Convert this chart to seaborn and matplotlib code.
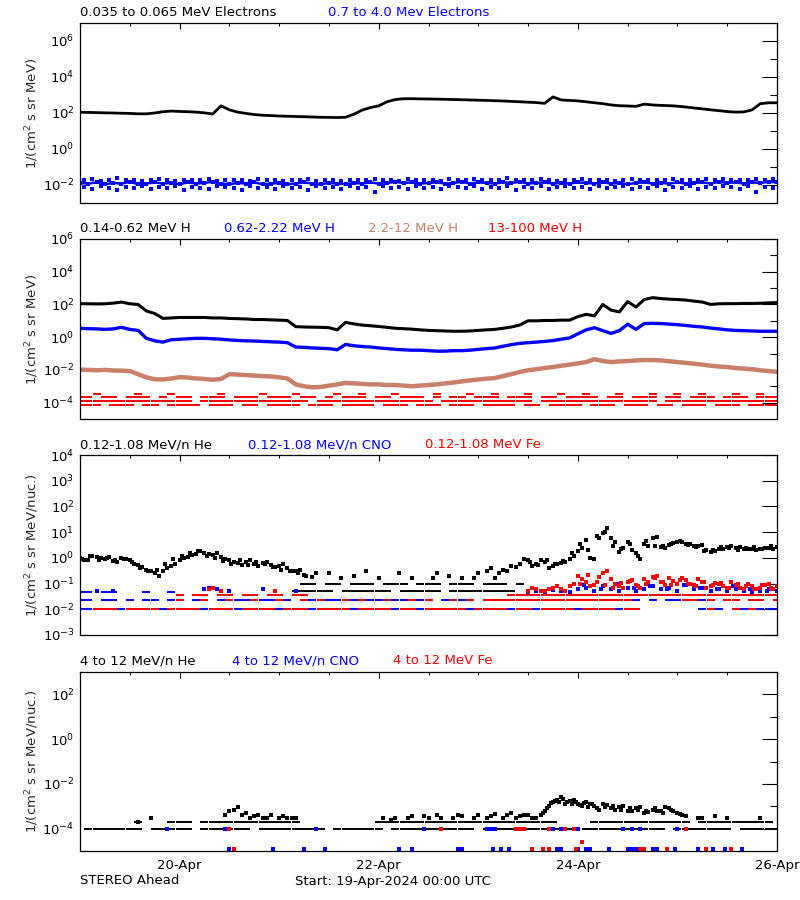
import numpy as np
import seaborn as sns
import matplotlib.pyplot as plt
from matplotlib.ticker import NullFormatter

# STEREO Ahead particle fluxes, 19-Apr-2024 00:00 UTC to 26-Apr-2024 00:00 UTC
# x = hours since start

hours2 = np.arange(0, 169, 2)   # 2-hourly samples
hours1 = np.arange(1, 168, 2)   # the samples in between

day_ticks = [24, 72, 120, 168]
day_labels = ['20-Apr', '22-Apr', '24-Apr', '26-Apr']

# ---- panel 1: electrons
e_low = [110, 108, 105, 102, 100, 97, 95, 90, 90, 100,
         118, 128, 122, 118, 112, 102, 88, 250, 150, 112,
         95, 82, 75, 72, 68, 66, 64, 62, 60, 58,
         57, 56, 58, 85, 145, 200, 250, 420, 560, 620,
         620, 610, 600, 590, 575, 560, 545, 530, 515, 500,
         480, 465, 440, 420, 400, 380, 345, 780, 530, 500,
         470, 420, 370, 330, 280, 255, 245, 235, 310, 280,
         265, 255, 240, 215, 190, 170, 150, 135, 120, 112,
         115, 150, 330, 370, 370]
e_high = [0.013, 0.012, 0.014, 0.011, 0.013, 0.012, 0.015, 0.011, 0.012, 0.014,
          0.012, 0.013, 0.011, 0.014, 0.012, 0.013, 0.015, 0.012, 0.011, 0.013,
          0.012, 0.014, 0.011, 0.012, 0.013, 0.011, 0.012, 0.014, 0.012, 0.011,
          0.013, 0.012, 0.011, 0.013, 0.012, 0.014, 0.012, 0.013, 0.015, 0.013,
          0.014, 0.012, 0.013, 0.014, 0.012, 0.013, 0.015, 0.012, 0.014, 0.013,
          0.012, 0.014, 0.013, 0.015, 0.012, 0.013, 0.014, 0.012, 0.013, 0.012,
          0.014, 0.013, 0.012, 0.014, 0.012, 0.013, 0.011, 0.013, 0.014, 0.012,
          0.013, 0.012, 0.014, 0.012, 0.013, 0.014, 0.012, 0.015, 0.013, 0.014,
          0.012, 0.014, 0.013, 0.015, 0.014]
e_high_up = [0.018, 0.021, 0.017, 0.019, 0.023, 0.018, 0.020, 0.017, 0.019, 0.022,
             0.018, 0.017, 0.020, 0.019, 0.018, 0.021, 0.017, 0.019, 0.018, 0.020,
             0.017, 0.022, 0.018, 0.019, 0.017, 0.020, 0.018, 0.021, 0.017, 0.019,
             0.018, 0.017, 0.020, 0.018, 0.019, 0.022, 0.018, 0.020, 0.017, 0.021,
             0.019, 0.018, 0.020, 0.017, 0.022, 0.019, 0.018, 0.021, 0.019, 0.020,
             0.018, 0.023, 0.019, 0.020, 0.018, 0.021, 0.019, 0.017, 0.020, 0.018,
             0.022, 0.019, 0.018, 0.020, 0.017, 0.019, 0.021, 0.018, 0.020, 0.019,
             0.018, 0.021, 0.019, 0.020, 0.018, 0.022, 0.019, 0.021, 0.018, 0.020,
             0.019, 0.022, 0.020, 0.021]
e_high_lo = [0.008, 0.006, 0.009, 0.007, 0.005, 0.008, 0.007, 0.009, 0.006, 0.008,
             0.007, 0.009, 0.005, 0.008, 0.007, 0.006, 0.009, 0.008, 0.007, 0.005,
             0.009, 0.007, 0.008, 0.006, 0.009, 0.007, 0.008, 0.005, 0.009, 0.007,
             0.008, 0.006, 0.009, 0.007, 0.008, 0.004, 0.009, 0.007, 0.008, 0.006,
             0.009, 0.007, 0.008, 0.006, 0.009, 0.008, 0.007, 0.009, 0.006, 0.008,
             0.007, 0.009, 0.005, 0.008, 0.007, 0.009, 0.006, 0.008, 0.009, 0.007,
             0.008, 0.006, 0.009, 0.007, 0.008, 0.009, 0.006, 0.008, 0.007, 0.009,
             0.005, 0.008, 0.007, 0.009, 0.006, 0.008, 0.007, 0.009, 0.008, 0.006,
             0.009, 0.004, 0.008, 0.007]

# ---- panel 2: protons
h_low = [112, 110, 108, 110, 120, 140, 110, 100, 40, 28,
         14, 15, 16, 16, 16, 16, 15, 15, 14, 13.5,
         13, 12, 12, 11.5, 11, 10.5, 4.4, 4.2, 4.1, 4.0,
         3.8, 2.8, 8, 6.5, 5.5, 5, 4.5, 4, 3.5, 3.3,
         3.1, 2.8, 2.6, 2.5, 2.4, 2.3, 2.3, 2.4, 2.6, 2.8,
         3, 3.5, 4.2, 5.5, 10, 10, 10.5, 10.5, 11, 11,
         18, 25, 20, 100, 45, 35, 150, 70, 200, 260,
         230, 210, 200, 186, 160, 140, 100, 110, 112, 112,
         115, 115, 118, 125, 130]
h_mid = [3.5, 3.3, 3.2, 3.0, 3.2, 4.0, 3.0, 2.6, 0.85, 0.6,
         0.5, 0.7, 0.74, 0.8, 0.85, 0.85, 0.8, 0.75, 0.68, 0.63,
         0.6, 0.58, 0.55, 0.52, 0.5, 0.46, 0.25, 0.24, 0.22, 0.21,
         0.2, 0.17, 0.36, 0.3, 0.27, 0.25, 0.22, 0.2, 0.18, 0.17,
         0.16, 0.16, 0.15, 0.14, 0.14, 0.15, 0.15, 0.16, 0.18, 0.2,
         0.22, 0.28, 0.35, 0.42, 0.46, 0.5, 0.55, 0.62, 0.75, 0.9,
         1.6, 2.8, 3.8, 2.5, 1.7, 2.5, 6.2, 3, 6.8, 7,
         6.8, 6.3, 5.8, 5.2, 4.6, 4.2, 3.6, 3.2, 2.8, 2.6,
         2.5, 2.4, 2.3, 2.3, 2.3]
h_high = [0.0105, 0.010, 0.0095, 0.010, 0.0092, 0.009, 0.0085, 0.0055, 0.0035, 0.0027,
          0.0026, 0.003, 0.0036, 0.0034, 0.003, 0.0028, 0.0025, 0.0028, 0.0055, 0.0052,
          0.0048, 0.0045, 0.0042, 0.004, 0.0035, 0.003, 0.0013, 0.001, 0.00087, 0.0009,
          0.0011, 0.0013, 0.0016, 0.0015, 0.0014, 0.0013, 0.0013, 0.0012, 0.0012, 0.0011,
          0.001, 0.0011, 0.0012, 0.0013, 0.0015, 0.0017, 0.002, 0.0023, 0.0026, 0.0029,
          0.0032, 0.0042, 0.0055, 0.0075, 0.0095, 0.011, 0.013, 0.015, 0.018, 0.021,
          0.025, 0.03, 0.045, 0.035, 0.03, 0.033, 0.035, 0.038, 0.04, 0.04,
          0.038, 0.034, 0.03, 0.027, 0.024, 0.021, 0.018, 0.016, 0.015, 0.013,
          0.012, 0.011, 0.0095, 0.0085, 0.0076]
# 13-100 MeV H sits on a few count levels; '1' = sample present on that level
h_top_levels = [3.5e-4, 2.1e-4, 1.3e-4, 6.8e-5]
h_top_masks = [
    "0010000100" "0100000100" "0010001000" "0100100010" "0001000100" "1000100010" "0100010001" "0010010001" "00100",
    "1101101110" "1011011101" "1101110110" "1011101101" "1101011011" "1011101101" "1110110111" "0110111011" "10111",
    "1111111111" "1111011111" "1111111101" "1111111111" "1110111111" "1111101111" "1111111111" "0111111111" "11111",
    "1110111011" "0111101110" "1101111011" "1011110111" "0111011101" "1110110111" "1011101110" "1101110111" "01111",
]

# ---- panel 3: 0.12-1.08 MeV/n ions
he_a = [1.0, 0.85, 1.1, 0.9, 0.75, 1.0, 0.8, 0.55, 0.35, 0.25,
        0.3, 0.5, 0.8, 1.1, 1.4, 1.6, 1.3, 1.1, 0.8, 0.65,
        0.7, 0.6, 0.65, 0.55, 0.5, 0.4, 0.3, 0.22, 0.18, np.nan,
        0.25, np.nan, np.nan, 0.2, np.nan, np.nan, 0.17, np.nan, np.nan, np.nan,
        0.17, np.nan, np.nan, 0.25, np.nan, np.nan, 0.17, np.nan, 0.25, 0.3,
        0.17, 0.35, 0.5, 0.6, 0.8, 0.6, 0.7, 0.5, 0.65, 0.9,
        1.9, 4.8, 0.9, 9, 6, 1.7, 4, 1.5, 3.5, 6,
        2.6, 3.2, 4, 3.5, 3, 3.2, 1.7, 2.2, 2.6, 2.4,
        2.3, 2.3, 2.2, 2.5, 2.6]
he_b = [0.8, 1.2, 0.95, 1.1, 0.7, 0.9, 0.6, 0.45, 0.3, 0.2,
        0.4, 0.6, 1.0, 1.3, 1.9, 1.4, 1.5, 0.9, 0.7, 0.55,
        0.8, 0.5, 0.7, 0.45, 0.6, 0.3, 0.35, np.nan, 0.25, np.nan,
        np.nan, 0.17, np.nan, np.nan, 0.3, np.nan, np.nan, np.nan, 0.25, np.nan,
        np.nan, np.nan, 0.17, np.nan, 0.2, np.nan, np.nan, 0.17, np.nan, 0.4,
        0.25, 0.3, 0.45, 0.9, 0.5, 0.8, 0.4, 0.6, 0.7, 1.2,
        2.5, 1.0, 6, 14, 4, 2.5, 2, 0.9, 2.8, 6.5,
        2.4, 3.8, 4.2, 3.6, 2.8, 2, 1.8, 2.3, 2.8, 2.6,
        2.2, 2.0, 2.4, 2.3]
he_c_h = np.arange(0.5, 56, 2)
he_c = [0.9, 1.2, 0.8, 1.0, 0.85, 0.9, 0.7, 0.4, 0.3, 0.35,
        0.6, 0.9, 1.2, 1.5, 1.8, 1.2, 1.0, 0.75, 0.6, 0.8,
        0.55, 0.7, 0.6, 0.45, 0.35, 0.3, 0.25, 0.2]
he_d_h = np.arange(108.5, 168, 2)
he_d = [0.7, 0.55, 0.8, 0.6, 0.75, 1.5, 3.5, 2.0, 7, 10,
        3, 2.2, 3.5, 1.2, 4.5, 3, 2.8, 3.6, 4.5, 3.2,
        2.6, 1.9, 2.0, 2.7, 2.5, 2.1, 2.4, 2.6, 2.2, 2.8]
he_levels = [0.1, 0.05]
he_masks = [
    "0000000000" "0000000000" "0000000110" "1101110111" "0111011101" "1101000000" "0000000000" "0000000000" "00000",
    "0000000000" "0000000000" "0000001111" "1011111101" "1111011111" "1110000000" "0000000000" "0000000000" "00000",
]
cno_levels = [0.01, 0.022, 0.045]
cno_masks = [
    "1111111111" "1111111111" "1111111111" "1111111111" "1111111111" "1111111111" "11111111" "00000001110110111",
    "1101101011" "0110110101" "1011010110" "1101011011" "0110101101" "1011011010" "1101101101" "0110011011" "01101",
    "1101100010" "0100000000" "0000000000" "0000000000" "0000000000" "0000000000" "0000000000" "0000000000" "00000",
]
fe_levels = [0.01, 0.022, 0.036]
fe_masks = [
    "0011101111" "0111101110" "1111011101" "1110111101" "1011111011" "1101101111" "01111011" "00000000100101000",
    "0000000000" "0010010010" "0100100101" "0010100100" "1010010101" "1111111111" "1111111000" "0001101011" "01101",
    "0000000000" "0010110110" "1101101100" "0000000000" "0000000000" "0011111111" "1111111111" "1111111111" "11111",
]
burst_hours2 = np.arange(108, 169, 2)
burst_hours1 = np.arange(109, 168, 2)
burst_hours3 = np.arange(120.5, 167, 2)
burst_hours4 = np.arange(121.5, 166, 4)
fe_burst_a = [0.05, 0.06, 0.05, 0.07, 0.06, 0.08, 0.2, 0.12, 0.09, 0.25,
              0.15, 0.08, 0.12, 0.09, 0.15, 0.18, 0.12, 0.16, 0.1, 0.14,
              0.09, 0.12, 0.08, 0.1, 0.07, 0.09, 0.06, 0.08, 0.07, 0.1, 0.08]
fe_burst_b = [0.07, 0.05, 0.06, 0.08, 0.05, 0.1, 0.15, 0.08, 0.18, 0.3,
              0.1, 0.07, 0.14, 0.07, 0.12, 0.2, 0.09, 0.13, 0.17, 0.1,
              0.15, 0.07, 0.11, 0.08, 0.12, 0.07, 0.1, 0.06, 0.09, 0.06]
fe_burst_c = [0.1, 0.22, 0.12, 0.09, 0.07, 0.11, 0.13, 0.08, 0.1, 0.16,
              0.12, 0.09, 0.14, 0.1, 0.08, 0.12, 0.09, 0.11, 0.07, 0.1,
              0.08, 0.06, 0.09, 0.07]
cno_burst_a = [0.045, 0.05, 0.045, 0.055, 0.05, 0.045, 0.06, 0.07, 0.05, 0.08,
               0.06, 0.05, 0.07, 0.05, 0.06, 0.08, 0.06, 0.07, 0.05, 0.09,
               0.06, 0.07, 0.05, 0.06, 0.05, 0.06, 0.05, 0.045, 0.05, 0.06, 0.05]
cno_burst_b = [0.09, 0.06, 0.1, 0.07, 0.08, 0.06, 0.09, 0.07, 0.06, 0.08, 0.06, 0.05]
cno_extra_h = [4, 8, 30, 31, 33, 36, 44, 52]
cno_extra = [0.05, 0.05, 0.06, 0.07, 0.06, 0.05, 0.06, 0.05]
fe_extra_h = [31, 32, 34, 47]
fe_extra = [0.06, 0.065, 0.05, 0.05]

# ---- panel 4: 4-12 MeV/n ions
he4_levels = [1e-4, 1.9e-4]
he4_masks = [
    "0111111101" "1111011111" "1011111111" "0111111011" "1111111101" "1111111111" "0111111111" "1011111110" "11111",
    "0000000100" "0111011111" "1111111000" "0000001111" "1111111111" "1111111100" "0011111111" "1111011111" "11110",
]
he4_h = [14, 17, 35, 36, 37, 38, 39, 40, 41, 42,
         43, 44, 45, 46, 48, 49, 50, 51, 52, 73,
         75, 76, 79, 80, 83, 84, 86, 87, 90, 91,
         92, 95, 96, 98, 99, 100, 102, 103, 104, 105,
         106, 107, 108, 109, 110, 111, 112, 113, 114, 115,
         116, 117, 118, 119, 120, 121, 122, 123, 124, 125,
         126, 127, 128, 129, 130, 131, 132, 133, 134, 135,
         136, 137, 138, 139, 140, 141, 142, 143, 144, 145,
         146, 149, 150, 153, 156, 164]
he4 = [2e-4, 3e-4, 4e-4, 6e-4, 7e-4, 9e-4, 4e-4, 5e-4, 3e-4, 3.5e-4,
       4e-4, 3e-4, 3e-4, 4e-4, 3e-4, 3.5e-4, 3e-4, 3e-4, 3e-4, 3e-4,
       2.5e-4, 3e-4, 3e-4, 3.5e-4, 3.5e-4, 3e-4, 4e-4, 3e-4, 3e-4, 4e-4,
       3.5e-4, 3e-4, 4e-4, 3e-4, 3.5e-4, 4.5e-4, 3e-4, 4e-4, 5e-4, 3e-4,
       3.5e-4, 4e-4, 4e-4, 3e-4, 3e-4, 4e-4, 6e-4, 1e-3, 1.5e-3, 2e-3,
       2.5e-3, 1.2e-3, 1.8e-3, 2e-3, 1.3e-3, 1.0e-3, 1.6e-3, 1.3e-3, 1.0e-3, 7e-4,
       1.2e-3, 1.1e-3, 8e-4, 7e-4, 9e-4, 1.0e-3, 6e-4, 6e-4, 8e-4, 9e-4,
       5e-4, 5.5e-4, 7e-4, 6e-4, 6e-4, 9e-4, 8e-4, 6e-4, 5e-4, 4e-4,
       3.5e-4, 3e-4, 3e-4, 3.5e-4, 3e-4, 3e-4]
he4b_h = [111.5, 112.5, 113.5, 114.5, 115.5, 116.5, 117.5, 118.5, 119.5, 120.5,
          121.5, 122.5, 123.5, 124.5, 126.5, 128.5, 130.5, 132.5, 134.5, 136.5,
          138.5, 140.5, 142.5, 144.5]
he4b = [5e-4, 8e-4, 1.4e-3, 1.8e-3, 1.5e-3, 2.2e-3, 1.6e-3, 1.2e-3, 1.5e-3, 1.1e-3,
        1.4e-3, 9e-4, 1.2e-3, 8e-4, 9e-4, 1.0e-3, 6.5e-4, 8e-4, 7e-4, 6e-4,
        8e-4, 5e-4, 7e-4, 4.5e-4]
cno4_row_h = [21, 35, 57, 83, 98, 99, 100, 114, 116, 120, 131, 133, 135, 144]
fe4_row_h = [36, 87, 105, 106, 107, 113, 117, 119, 146]
cno4_low_h = [36, 46.5, 54, 59, 77, 80, 91, 92, 99.5, 101.5, 103.5, 115, 116, 120,
              122, 123, 127.5, 132, 133, 134, 138, 139, 143.5, 149, 152.5, 155.5, 159.5]
fe4_low_h = [37, 109, 111.5, 113, 119.5, 121, 135, 136, 141.5, 151, 157]
fe4_low = [1.25e-5, 1.25e-5, 1.25e-5, 1.25e-5, 1.25e-5, 2.5e-5, 1.25e-5, 1.25e-5,
           1.25e-5, 1.25e-5, 1.25e-5]
row_level4 = 1e-4
low_level4 = 1.25e-5

BLUE = '#0000ff'
RED = '#ff0000'
SIENNA = '#c8806a'


def mask_hours(mask):
    assert len(mask) == len(hours2), len(mask)
    return [h for h, m in zip(hours2, mask) if m == '1']


def draw_line(ax, x, y, color, lw):
    sns.lineplot(x=list(x), y=y, ax=ax, color=color, linewidth=lw, estimator=None, sort=False)


def draw_dots(ax, x, y, color, size=6):
    sns.scatterplot(x=list(x), y=y, ax=ax, color=color, s=size, marker='s', linewidth=0)


def draw_row(ax, x, level, color):
    sns.scatterplot(x=list(x), y=[level] * len(x), ax=ax, color=color,
                    marker='_', s=38, linewidth=1.4)


sns.set_style('white', {'axes.edgecolor': 'black', 'text.color': 'black',
                        'xtick.color': 'black', 'ytick.color': 'black'})
plt.rcParams['font.family'] = ['DejaVu Sans']
plt.rcParams['mathtext.fontset'] = 'dejavusans'

fig = plt.figure(figsize=(8, 9), dpi=100)
fig.patch.set_facecolor('white')
boxes = [(23, 203), (239, 419), (455, 635), (672, 851)]
axes = [fig.add_axes([80 / 800, 1 - b / 900, 697 / 800, (b - t) / 900]) for t, b in boxes]
for ax in axes:
    ax.set_yscale('log')

ax1, ax2, ax3, ax4 = axes

# panel 1
draw_dots(ax1, hours1, e_high_up, BLUE, 7)
draw_dots(ax1, hours1, e_high_lo, BLUE, 7)
draw_dots(ax1, hours2, e_high, BLUE, 10)
draw_line(ax1, hours2, e_high, BLUE, 1.8)
draw_line(ax1, hours2, e_low, 'black', 2.0)

# panel 2
for lvl, m in zip(h_top_levels, h_top_masks):
    draw_row(ax2, mask_hours(m), lvl, RED)
draw_line(ax2, hours2, h_high, SIENNA, 3.2)
draw_line(ax2, hours2, h_mid, BLUE, 2.4)
draw_line(ax2, hours2, h_low, 'black', 2.2)

# panel 3
for lvl, m in zip(cno_levels, cno_masks):
    draw_row(ax3, mask_hours(m), lvl, BLUE)
for lvl, m in zip(fe_levels, fe_masks):
    draw_row(ax3, mask_hours(m), lvl, RED)
for lvl, m in zip(he_levels, he_masks):
    draw_row(ax3, mask_hours(m), lvl, 'black')
draw_dots(ax3, burst_hours2, cno_burst_a, BLUE, 8)
draw_dots(ax3, burst_hours4, cno_burst_b, BLUE, 8)
draw_dots(ax3, cno_extra_h, cno_extra, BLUE, 8)
draw_dots(ax3, burst_hours2, fe_burst_a, RED, 8)
draw_dots(ax3, burst_hours1, fe_burst_b, RED, 8)
draw_dots(ax3, burst_hours3, fe_burst_c, RED, 8)
draw_dots(ax3, fe_extra_h, fe_extra, RED, 8)
draw_dots(ax3, hours2, he_a, 'black', 7)
draw_dots(ax3, hours1, he_b, 'black', 7)
draw_dots(ax3, he_c_h, he_c, 'black', 7)
draw_dots(ax3, he_d_h, he_d, 'black', 7)

# panel 4
for lvl, m in zip(he4_levels, he4_masks):
    draw_row(ax4, mask_hours(m), lvl, 'black')
draw_dots(ax4, cno4_row_h, [row_level4] * len(cno4_row_h), BLUE, 7)
draw_dots(ax4, fe4_row_h, [row_level4] * len(fe4_row_h), RED, 7)
draw_dots(ax4, cno4_low_h, [low_level4] * len(cno4_low_h), BLUE, 7)
draw_dots(ax4, fe4_low_h, fe4_low, RED, 7)
draw_dots(ax4, he4_h, he4, 'black', 7)
draw_dots(ax4, he4b_h, he4b, 'black', 7)

settings = [
    (ax1, (1e-3, 1e7), [1e-2, 1e0, 1e2, 1e4, 1e6], [1e-1, 1e1, 1e3, 1e5], '1/(cm$^2$ s sr MeV)'),
    (ax2, (1e-5, 1e6), [1e-4, 1e-2, 1e0, 1e2, 1e4, 1e6], [1e-3, 1e-1, 1e1, 1e3, 1e5], '1/(cm$^2$ s sr MeV)'),
    (ax3, (1e-3, 1e4), [1e-3, 1e-2, 1e-1, 1e0, 1e1, 1e2, 1e3, 1e4], [], '1/(cm$^2$ s sr MeV/nuc.)'),
    (ax4, (1e-5, 1e3), [1e-4, 1e-2, 1e0, 1e2], [1e-3, 1e-1, 1e1], '1/(cm$^2$ s sr MeV/nuc.)'),
]
for ax, ylim, major, minor, ylab in settings:
    ax.set_xlim(0, 168)
    ax.set_ylim(*ylim)
    ax.set_yticks(major)
    ax.set_yticklabels([f'$10^{{{int(round(np.log10(v)))}}}$' for v in major])
    ax.set_yticks(minor, minor=True)
    ax.yaxis.set_minor_formatter(NullFormatter())
    ax.set_xticks(day_ticks)
    ax.set_xticks(np.arange(0, 169, 12), minor=True)
    ax.tick_params(axis='both', which='both', direction='in', top=True, right=True,
                   width=0.8, color='black')
    ax.tick_params(axis='y', which='major', length=10.8, labelsize=9.5, pad=4)
    ax.tick_params(axis='y', which='minor', length=5.2)
    ax.tick_params(axis='x', which='major', length=4.3, pad=6, labelsize=9.5)
    ax.tick_params(axis='x', which='minor', length=2.2)
    ax.set_xlabel('')
    ax.set_ylabel(ylab, fontsize=9.5)
    ax.yaxis.set_label_coords(-0.056, 0.5)
    for sp in ax.spines.values():
        sp.set_linewidth(0.9)
        sp.set_color('black')
    if ax is ax4:
        ax.set_xticklabels(day_labels)
    else:
        ax.set_xticklabels([])

titles = [
    (13, [(80, '0.035 to 0.065 MeV Electrons', 'black'), (328, '0.7 to 4.0 Mev Electrons', BLUE)]),
    (229, [(80, '0.14-0.62 MeV H', 'black'), (224, '0.62-2.22 MeV H', BLUE),
           (368, '2.2-12 MeV H', SIENNA), (488, '13-100 MeV H', RED)]),
    (445, [(80, '0.12-1.08 MeV/n He', 'black'), (248, '0.12-1.08 MeV/n CNO', BLUE),
           (425, '0.12-1.08 MeV Fe', RED)]),
    (661, [(80, '4 to 12 MeV/n He', 'black'), (232, '4 to 12 MeV/n CNO', BLUE),
           (393, '4 to 12 MeV Fe', RED)]),
]
for y, parts in titles:
    for x, txt, col in parts:
        fig.text(x / 800, 1 - y / 900, txt, color=col, fontsize=9.5, ha='left', va='center')

fig.text(80 / 800, 1 - 881 / 900, 'STEREO Ahead', fontsize=9.5, ha='left', va='center')
fig.text(295 / 800, 1 - 881 / 900, 'Start: 19-Apr-2024 00:00 UTC', fontsize=9.5, ha='left', va='center')

fig.savefig('out.png', dpi=100, facecolor='white')
